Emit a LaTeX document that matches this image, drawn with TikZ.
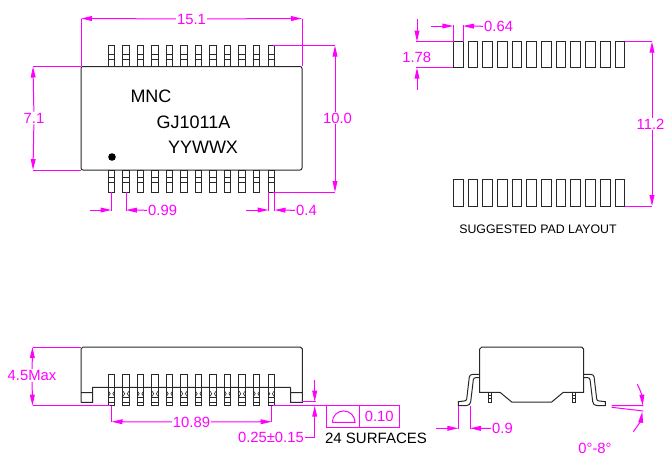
\documentclass[tikz,border=0pt]{standalone}
\usepackage{fontspec}
\setmainfont{Liberation Sans}
\usetikzlibrary{arrows.meta}
\definecolor{dimcol}{RGB}{255,0,255}
\definecolor{partcol}{RGB}{40,40,40}
\begin{document}
\begin{tikzpicture}[x=1pt,y=-1pt]
	\tikzset{partline/.style={draw=partcol, line width=1pt},
		dimline/.style={draw=dimcol, line width=1pt, >={Triangle[length=11pt,width=4.8pt]}},
		dimtext/.style={text=dimcol, fill=white, inner sep=1pt, font=\fontsize{14.8}{16}\selectfont},
		marktext/.style={text=black, inner sep=0pt, font=\fontsize{18}{19}\selectfont}}
	\useasboundingbox (0,0) rectangle (664,455);
	\clip (0,0) rectangle (664,455);

	% top view
	\draw[partline, rounded corners=2pt] (81,66.5) rectangle (302,170);
	\foreach \i [evaluate=\i as \xa using 108.4+14.51*\i] in {0,...,11} {
		\draw[partline] (\xa,45.5) rectangle +(6.2,21);
		\draw[partline] (\xa,54.5) -- +(6.2,0) (\xa,59.5) -- +(6.2,0);
		\draw[partline] (\xa,170) rectangle +(6.2,22);
		\draw[partline] (\xa,177.5) -- +(6.2,0) (\xa,182.5) -- +(6.2,0);
	}
	\fill[black] (112,157) circle (3.8);
	\node[marktext] (markmnc) at (151,96.5) {MNC};
	\node[marktext] (markpart) at (193.5,122) {GJ1011A};
	\node[marktext] (markdate) at (203,147) {YYWWX};

	\draw[dimline] (81,66) -- (81,18.5) (302,66) -- (302,18.5);
	\node[dimtext] (dimwidth) at (191.5,19) {15.1};
	\draw[dimline,->] (dimwidth) -- (81,18.5);
	\draw[dimline,->] (dimwidth) -- (302,18.5);

	\draw[dimline] (33,66.5) -- (81,66.5) (33,170) -- (81,170);
	\node[dimtext] (dimbody) at (34,118) {7.1};
	\draw[dimline,->] (dimbody) -- (33,66.5);
	\draw[dimline,->] (dimbody) -- (33,170);

	\draw[dimline] (273,45.5) -- (335,45.5) (273,192) -- (335,192);
	\node[dimtext] (dimspan) at (337.5,118) {10.0};
	\draw[dimline,->] (dimspan.north -| 335,0) -- (335,45.5);
	\draw[dimline,->] (dimspan.south -| 335,0) -- (335,192);

	\draw[dimline] (111.5,192) -- (111.5,211) (126,192) -- (126,211);
	\draw[dimline,->] (90,210) -- (111.5,210);
	\node[dimtext, anchor=west] (dimpitch) at (147,210.5) {0.99};
	\draw[dimline,->] (dimpitch) -- (126,210);

	\draw[dimline] (268.5,192) -- (268.5,211) (274.5,192) -- (274.5,211);
	\draw[dimline,->] (246,210) -- (268.5,210);
	\node[dimtext, anchor=west] (dimlead) at (295,210.5) {0.4};
	\draw[dimline,->] (dimlead) -- (274.5,210);

	% suggested pad layout
	\foreach \i [evaluate=\i as \xa using 453.3+14.7*\i] in {0,...,11} {
		\draw[partline] (\xa,41.7) rectangle +(9.7,26);
		\draw[partline] (\xa,179.3) rectangle +(9.7,26.7);
	}
	\node[inner sep=0pt, font=\fontsize{12.35}{14}\selectfont] (padtitle) at (538,229) {SUGGESTED PAD LAYOUT};

	\draw[dimline] (416,41.7) -- (453.3,41.7) (416,67.7) -- (453.3,67.7);
	\draw[dimline,->] (417,19) -- (417,41.7);
	\draw[dimline,->] (417,90) -- (417,67.7);
	\node[dimtext, fill=none] (dimpadh) at (416.7,57) {1.78};

	\draw[dimline] (453.3,25) -- (453.3,41.7) (463,25) -- (463,41.7);
	\draw[dimline,->] (431,26) -- (453.3,26);
	\node[dimtext, anchor=west] (dimpadw) at (483,26.5) {0.64};
	\draw[dimline,->] (dimpadw) -- (463,26);

	\draw[dimline] (624.7,41.7) -- (652,41.7) (624.7,206) -- (652,206);
	\node[dimtext, inner xsep=0pt] (dimrows) at (650.5,124) {11.2};
	\draw[dimline,->] (dimrows.north -| 652,0) -- (652,41.7);
	\draw[dimline,->] (dimrows.south -| 652,0) -- (652,206);

	% side view
	\draw[partline] (81,402.3) -- (81,349) -- (83,347) -- (300.3,347) -- (302.3,349) -- (302.3,402.3) -- (290.7,402.3) -- (290.7,387.3)
		(81,402.3) -- (92.7,402.3) -- (92.7,387.3) -- (290.7,387.3)
		(81,392.5) -- (92.7,392.5) (290.7,392.5) -- (302.3,392.5);
	\foreach \i [evaluate=\i as \xa using 108.4+14.51*\i] in {0,...,11} {
		\filldraw[partline, fill=white] (\xa,374.3) rectangle +(6.2,31.4);
		\draw[partline] (\xa,387.3) -- +(6.2,0) (\xa,397.5) -- +(6.2,0) (\xa,402) -- +(6.2,0);
		\draw[partline, line width=0.6pt] (\xa,391) -- +(1.8,2.7) -- +(0,5.4) (\xa+6.2,391) -- +(-1.8,2.7) -- +(0,5.4);
	}

	\draw[dimline] (33,347) -- (81,347) (33,405.7) -- (110,405.7);
	\node[dimtext] (dimheight) at (32,375.5) {4.5Max};
	\draw[dimline,->] (dimheight) -- (32.5,347);
	\draw[dimline,->] (dimheight) -- (32.5,405.7);

	\draw[dimline] (111.5,405.7) -- (111.5,422) (271.7,405.7) -- (271.7,422);
	\node[dimtext] (dimrow) at (191.5,422) {10.89};
	\draw[dimline,->] (dimrow) -- (111.5,421.7);
	\draw[dimline,->] (dimrow) -- (271.7,421.7);

	\draw[dimline] (302.3,401.7) -- (316,401.7) (273,405.7) -- (399.3,405.7);
	\draw[dimline,->] (314.7,380) -- (314.7,401.7);
	\node[dimtext, anchor=east] (dimgap) at (305,437) {0.25±0.15};
	\draw[dimline,->] (dimgap.east) -- (314.7,437) -- (314.7,405.7);

	\draw[dimline] (326.7,405.7) rectangle (399.3,427.3) (359.3,405.7) -- (359.3,427.3);
	\draw[dimline] (332.3,422.3) -- (355,422.3) arc[start angle=0, end angle=-180, radius=11.35];
	\node[dimtext, fill=none] (dimflat) at (379.3,416.5) {0.10};
	\node[inner sep=0pt, font=\fontsize{15}{17}\selectfont] (flatnote) at (376,438) {24 SURFACES};

	% end view
	\draw[partline] (479.7,392.3) -- (479.7,349) -- (481.7,347) -- (581.7,347) -- (583.7,349) -- (583.7,392.3) -- (563.3,392.3) -- (551.7,402) -- (511.7,402) -- (500,392.3) -- cycle;
	\draw[partline] (488,392.3) rectangle (491,402) (488,395.5) -- (491,395.5) (488,398.8) -- (491,398.8);
	\draw[partline] (572.7,392.3) rectangle (575.7,402) (572.7,395.5) -- (575.7,395.5) (572.7,398.8) -- (575.7,398.8);
	\draw[partline] (479.7,374.3) -- (473,374.3) .. controls (470.5,374.3) and (469.7,375.5) .. (469.3,377) -- (466.7,399) .. controls (466.4,400.5) and (465.5,401) .. (464,401) -- (458.3,401.7) -- (458.3,405.7) -- (466,405.7) .. controls (469,405.7) and (470.4,404) .. (470.7,401.7) -- (473.3,380) .. controls (473.6,378.4) and (474.3,377.7) .. (475.7,377.7) -- (479.7,377.7);
	\draw[partline] (583.7,374.3) -- (590.4,374.3) .. controls (592.9,374.3) and (593.7,375.5) .. (594.1,377) -- (596.7,399) .. controls (597,400.5) and (597.9,401) .. (599.4,401) -- (605.4,401.7) -- (605.4,405.7) -- (597.4,405.7) .. controls (594.4,405.7) and (593,404) .. (592.7,401.7) -- (590.1,380) .. controls (589.8,378.4) and (589.1,377.7) .. (587.7,377.7) -- (583.7,377.7);

	\draw[dimline] (458.3,405.7) -- (458.3,429) (470,405.7) -- (470,429);
	\draw[dimline,->] (436,428.3) -- (458.3,428.3);
	\node[dimtext, anchor=west] (dimfoot) at (491,428.5) {0.9};
	\draw[dimline,->] (dimfoot) -- (470,428.3);

	\draw[dimline] (611.7,405.7) -- (643.3,405.7) (611.7,407.3) -- (643.3,411);
	\draw[dimline,->] (637.3,384.3) .. controls (640,389) and (642,396) .. (642.7,405.7);
	\draw[dimline,->] (633.3,431.7) .. controls (637,427) and (641,420) .. (642.3,411.7);
	\node[dimtext, fill=none, inner sep=0pt] (dimangle) at (595,448) {0°-8°};
\end{tikzpicture}
\end{document}
